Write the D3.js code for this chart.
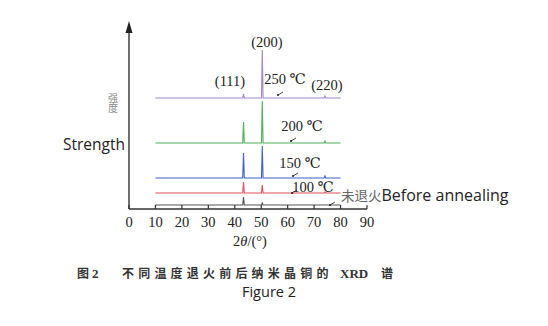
<!DOCTYPE html>
<html>
<head>
<meta charset="utf-8">
<script src="https://cdn.jsdelivr.net/npm/d3@7"></script>
<style>
  body { margin: 0; background: #fff; }
  svg { display: block; }
  text { white-space: pre; }
</style>
</head>
<body>
<div id="chart"></div>
<script>
// x axis ticks (2θ in degrees)
const xTicks = [0, 10, 20, 30, 40, 50, 60, 70, 80, 90];

// series, bottom to top
const seriesNames = ["未退火", "100 ℃", "150 ℃", "200 ℃", "250 ℃"];
const seriesColors = ["#555555", "#e0505f", "#3f62c4", "#4fb05a", "#a585c4"];
const seriesOffsets = [4, 16, 31, 66, 111];

// measured patterns: [2θ, intensity above own baseline]
const patternRaw = [
  [[10,0],[43,0],[43.3,8],[43.6,0],[50.1,0],[50.4,2],[50.7,0],[80,0]],
  [[10,0],[43,0],[43.3,11],[43.6,0],[50.1,0],[50.4,8],[50.7,0],[73.8,0],[74.1,1],[74.4,0],[80,0]],
  [[10,0],[43,0],[43.3,25],[43.6,0],[50.1,0],[50.4,32],[50.7,0],[73.8,0],[74.1,2],[74.4,0],[80,0]],
  [[10,0],[43,0],[43.3,21],[43.6,0],[50.1,0],[50.4,42],[50.7,0],[73.8,0],[74.1,2],[74.4,0],[80,0]],
  [[10,0],[43,0],[43.3,4],[43.6,0],[50.1,0],[50.4,48],[50.7,0],[73.8,0],[74.1,2],[74.4,0],[80,0]]
];

// peak (hkl) labels on the top pattern
const peakLabels = ["(111)", "(200)", "(220)"];

const width = 548, height = 326;
const svg = d3.select("#chart").append("svg")
    .attr("width", width)
    .attr("height", height);

const x = d3.scaleLinear().domain([0, 90]).range([129, 367]);
const y = d3.scaleLinear().domain([0, 187]).range([209, 22]);

const serif = "'Liberation Serif', 'DejaVu Serif', serif";
const sans = "'Open Sans', 'Noto Sans', sans-serif";
const cjk = "'Noto Sans CJK SC', sans-serif";

// traces
const line = d3.line()
    .x(d => x(d[0]))
    .y(d => y(d[1]));

patternRaw.forEach((pts, i) => {
    svg.append("path")
        .attr("fill", "none")
        .attr("stroke", seriesColors[i])
        .attr("stroke-width", 1.1)
        .attr("d", line(pts.map(p => [p[0], p[1] + seriesOffsets[i]])));
});

// small start tick of the bottom trace
svg.append("line")
    .attr("x1", x(10)).attr("x2", x(10))
    .attr("y1", y(seriesOffsets[0])).attr("y2", y(seriesOffsets[0]) + 3)
    .attr("stroke", seriesColors[0]).attr("stroke-width", 1);

// x axis
svg.append("line")
    .attr("x1", x(0)).attr("x2", x(90))
    .attr("y1", y(0)).attr("y2", y(0))
    .attr("stroke", "#333").attr("stroke-width", 1.4);

svg.selectAll(".xtick")
    .data(xTicks)
    .join("line")
    .attr("class", "xtick")
    .attr("x1", d => x(d)).attr("x2", d => x(d))
    .attr("y1", y(0)).attr("y2", y(0) - 4)
    .attr("stroke", "#333").attr("stroke-width", 1.2);

svg.selectAll(".xlab")
    .data(xTicks)
    .join("text")
    .attr("class", "xlab")
    .attr("x", d => x(d))
    .attr("y", 227)
    .attr("text-anchor", "middle")
    .attr("font-family", serif)
    .attr("font-size", 14.5)
    .attr("fill", "#222")
    .text(d => d);

svg.append("text")
    .attr("x", 250).attr("y", 246)
    .attr("text-anchor", "middle")
    .attr("font-family", serif)
    .attr("font-size", 14.5)
    .attr("fill", "#222")
    .html("2<tspan font-style='italic'>θ</tspan>/(°)");

// y axis with arrow
svg.append("line")
    .attr("x1", x(0)).attr("x2", x(0))
    .attr("y1", y(0)).attr("y2", 30)
    .attr("stroke", "#333").attr("stroke-width", 1.4);
svg.append("path")
    .attr("d", `M${x(0)},21 L${x(0) - 3.5},33 L${x(0) + 3.5},33 Z`)
    .attr("fill", "#222");

// y label (vertical Chinese + English)
svg.append("text")
    .attr("x", 113).attr("y", 93)
    .attr("text-anchor", "start")
    .attr("font-family", cjk)
    .attr("font-size", 10)
    .attr("fill", "#888")
    .style("writing-mode", "vertical-rl")
    .style("text-orientation", "upright")
    .text("强度");

svg.append("text")
    .attr("x", 125).attr("y", 150)
    .attr("text-anchor", "end")
    .attr("font-family", sans)
    .attr("font-size", 15.5)
    .attr("fill", "#222")
    .text("Strength");

// peak labels (on 250 ℃ pattern)
const peakPos = [[230, 86], [267, 47], [327, 90]];
peakLabels.forEach((t, i) => {
    svg.append("text")
        .attr("x", peakPos[i][0]).attr("y", peakPos[i][1])
        .attr("text-anchor", "middle")
        .attr("font-family", serif)
        .attr("font-size", 14.5)
        .attr("fill", "#222")
        .text(t);
});

// temperature labels with leader marks
const labelPos = [[341, 201], [313, 192], [300, 168], [302, 131], [285, 84]];
const leaderPos = [[330, 205], [292, 193], [293, 176], [291, 141], [278, 95]];
seriesNames.forEach((t, i) => {
    const lab = svg.append("text")
        .attr("x", labelPos[i][0]).attr("y", labelPos[i][1])
        .attr("text-anchor", i === 0 ? "start" : "middle")
        .attr("font-family", serif)
        .attr("font-size", 14.5)
        .attr("fill", "#222");
    if (i === 0) {
        lab.append("tspan")
            .attr("font-family", cjk)
            .attr("font-size", 13.5)
            .attr("fill", "#666")
            .text(t);
        lab.append("tspan")
            .attr("font-family", sans)
            .attr("font-size", 16)
            .attr("fill", "#222")
            .text("Before annealing");
    } else {
        lab.text(t);
    }
    const [lx, ly] = leaderPos[i];
    svg.append("line")
        .attr("x1", lx + 5).attr("y1", ly - 3)
        .attr("x2", lx).attr("y2", ly)
        .attr("stroke", "#333").attr("stroke-width", 0.9);
    svg.append("circle")
        .attr("cx", lx).attr("cy", ly).attr("r", 1)
        .attr("fill", "#222");
});

// caption
const capY = 278;
const capParts = [
    { t: "图", x: 77, f: cjk, s: 12, ls: 0 },
    { t: "2", x: 92, f: serif, s: 13, ls: 0 },
    { t: "不同温度退火前后纳米晶铜的", x: 122, f: cjk, s: 12, ls: 4.2 },
    { t: "XRD", x: 340, f: serif, s: 13, ls: 0 },
    { t: "谱", x: 381, f: cjk, s: 12, ls: 0 }
];
capParts.forEach(p => {
    svg.append("text")
        .attr("x", p.x).attr("y", capY)
        .attr("font-family", p.f)
        .attr("font-weight", "bold")
        .attr("font-size", p.s)
        .attr("letter-spacing", p.ls)
        .attr("fill", "#333")
        .text(p.t);
});

svg.append("text")
    .attr("x", 269).attr("y", 297)
    .attr("text-anchor", "middle")
    .attr("font-family", sans)
    .attr("font-size", 14.5)
    .attr("fill", "#222")
    .text("Figure 2");
</script>
</body>
</html>
